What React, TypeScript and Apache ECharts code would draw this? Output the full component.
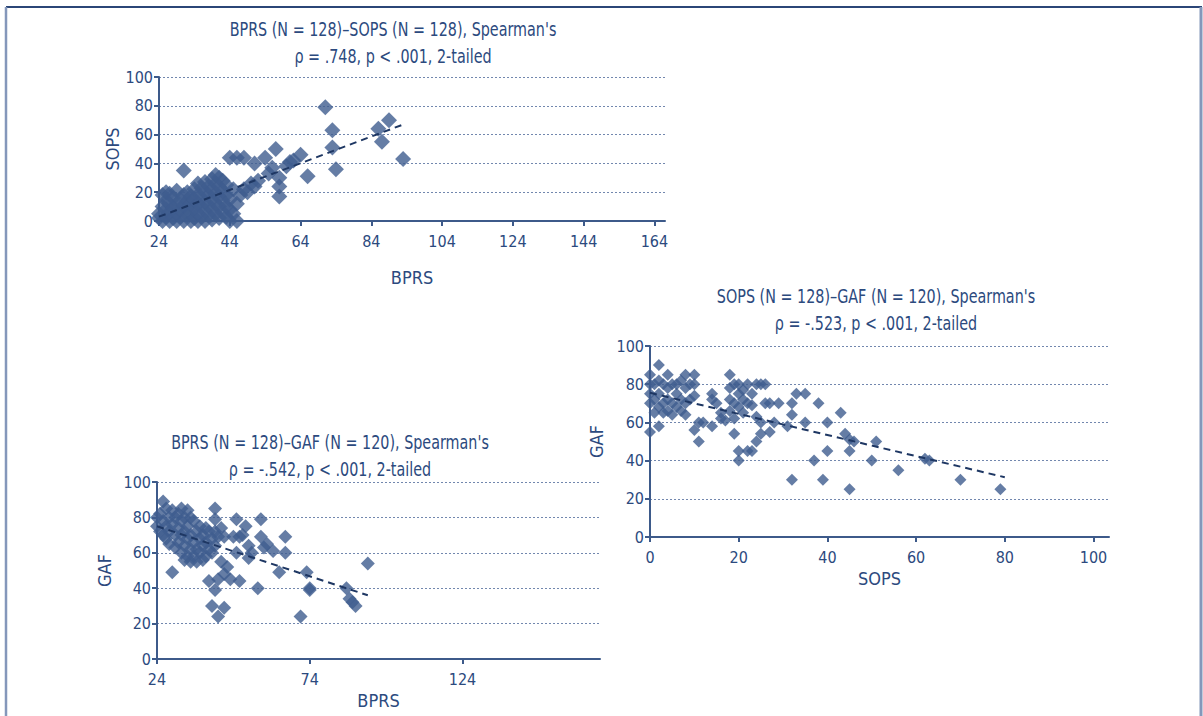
import React, { useEffect, useRef } from "react";
import * as echarts from "echarts";

// ---------- data ----------
// Plot A: BPRS (x) vs SOPS (y)
const bprsSopsPoints: [number, number][] = [
  [24, 2], [24, 5], [25, 0], [25, 10], [25, 18], [26, 3], [26, 8], [26, 14], [26, 20], [27, 0],
  [27, 6], [27, 12], [27, 19], [28, 2], [28, 9], [28, 16], [29, 0], [29, 5], [29, 12], [29, 21],
  [30, 3], [30, 8], [30, 15], [31, 0], [31, 11], [31, 18], [31, 35], [32, 4], [32, 9], [32, 14],
  [32, 20], [33, 0], [33, 6], [33, 12], [33, 17], [34, 2], [34, 9], [34, 15], [34, 22], [35, 0],
  [35, 5], [35, 12], [35, 18], [35, 26], [36, 3], [36, 10], [36, 16], [36, 23], [37, 0], [37, 7],
  [37, 13], [37, 20], [37, 27], [38, 4], [38, 11], [38, 18], [38, 24], [39, 1], [39, 8], [39, 15],
  [39, 22], [39, 29], [40, 5], [40, 12], [40, 19], [40, 26], [40, 32], [41, 2], [41, 10], [41, 17],
  [41, 24], [41, 30], [42, 6], [42, 14], [42, 21], [42, 28], [43, 3], [43, 10], [43, 18], [43, 25],
  [44, 0], [44, 8], [44, 15], [44, 44], [45, 5], [45, 22], [46, 0], [46, 12], [46, 44], [47, 18],
  [48, 22], [48, 44], [49, 20], [50, 26], [51, 24], [51, 40], [52, 28], [54, 44], [55, 33], [56, 37],
  [57, 50], [58, 17], [58, 24], [58, 30], [60, 38], [61, 41], [62, 42], [64, 46], [66, 31], [71, 79],
  [73, 63], [73, 51], [74, 36], [86, 64], [87, 55], [89, 70], [93, 43],
];
const bprsSopsTrend: [number, number][] = [[24, 3], [93, 67]];

// Plot B: SOPS (x) vs GAF (y)
const sopsGafPoints: [number, number][] = [
  [0, 85], [0, 80], [0, 75], [0, 70], [0, 55], [1, 80], [1, 72], [1, 65], [2, 90], [2, 82],
  [2, 75], [2, 68], [2, 58], [3, 80], [3, 70], [3, 65], [4, 85], [4, 78], [4, 72], [4, 66],
  [5, 80], [5, 70], [5, 64], [6, 80], [6, 75], [6, 68], [7, 82], [7, 72], [7, 66], [8, 85],
  [8, 78], [8, 70], [8, 64], [9, 80], [9, 72], [10, 85], [10, 80], [10, 74], [10, 56], [11, 60],
  [11, 50], [12, 60], [14, 75], [14, 72], [14, 58], [15, 70], [16, 65], [16, 62], [17, 61], [18, 85],
  [18, 78], [18, 72], [18, 66], [19, 80], [19, 70], [19, 54], [19, 62], [20, 80], [20, 75], [20, 68],
  [20, 40], [20, 45], [21, 77], [21, 72], [21, 65], [22, 80], [22, 70], [22, 45], [23, 75], [23, 69],
  [23, 45], [24, 80], [24, 63], [24, 50], [25, 80], [25, 60], [25, 54], [26, 80], [26, 70], [27, 70],
  [27, 55], [28, 60], [29, 70], [31, 58], [32, 70], [32, 64], [32, 30], [33, 75], [35, 75], [35, 60],
  [37, 40], [38, 70], [39, 30], [40, 60], [40, 45], [43, 65], [44, 54], [45, 51], [45, 45], [45, 25],
  [46, 50], [50, 40], [51, 50], [56, 35], [62, 41], [63, 40], [70, 30], [79, 25],
];
const sopsGafTrend: [number, number][] = [[0, 75.5], [80, 31.3]];

// Plot C: BPRS (x) vs GAF (y)
const bprsGafPoints: [number, number][] = [
  [24, 80], [24, 75], [25, 82], [25, 72], [26, 89], [26, 78], [26, 70], [27, 85], [27, 75], [27, 68],
  [28, 80], [28, 72], [28, 65], [29, 84], [29, 76], [29, 49], [30, 80], [30, 70], [30, 63], [31, 82],
  [31, 74], [31, 66], [32, 85], [32, 78], [32, 70], [32, 60], [33, 80], [33, 72], [33, 64], [33, 56],
  [34, 84], [34, 75], [34, 68], [34, 58], [35, 80], [35, 70], [35, 62], [35, 55], [36, 78], [36, 66],
  [36, 58], [37, 72], [37, 62], [37, 55], [38, 75], [38, 68], [38, 60], [39, 70], [39, 64], [39, 56],
  [40, 74], [40, 66], [40, 58], [41, 72], [41, 62], [41, 44], [42, 68], [42, 60], [42, 30], [43, 85],
  [43, 79], [43, 72], [43, 64], [43, 39], [44, 69], [44, 24], [44, 45], [45, 74], [45, 55], [46, 48],
  [46, 29], [46, 69], [47, 52], [48, 45], [49, 69], [50, 79], [50, 60], [51, 44], [51, 69], [52, 70],
  [53, 75], [54, 64], [54, 57], [55, 60], [57, 40], [58, 79], [58, 69], [59, 63], [60, 65], [62, 61],
  [64, 49], [66, 69], [66, 60], [71, 24], [73, 49], [74, 40], [74, 39], [86, 40], [87, 34], [88, 32],
  [89, 30], [93, 54],
];
const bprsGafTrend: [number, number][] = [[24, 75], [93, 36]];

// tick labels
const bprsTicksA = [24, 44, 64, 84, 104, 124, 144, 164];
const bprsTicksC = [24, 74, 124];
const sopsTicksB = [0, 20, 40, 60, 80, 100];

// titles
const titleA = ["BPRS (N = 128)–SOPS (N = 128), Spearman's", "ρ = .748, p < .001, 2-tailed"];
const titleB = ["SOPS (N = 128)–GAF (N = 120), Spearman's", "ρ = -.523, p < .001, 2-tailed"];
const titleC = ["BPRS (N = 128)–GAF (N = 120), Spearman's", "ρ = -.542, p < .001, 2-tailed"];

// ---------- styles ----------
const FONT = '"Liberation Sans Narrow", "DejaVu Sans Condensed", "Arial Narrow", sans-serif';
const TEXT = "#2c4a7e";
const AXIS = "#3d5a8a";
const MARK = "#3e5c8e";
const TREND = "#1e3763";
const GRIDLINE = "#7287ae";

function xAxis(gridIndex: number, min: number, max: number, ticks: number[], name: string, nameGap: number) {
  return {
    type: "value",
    gridIndex,
    min,
    max,
    name,
    nameLocation: "middle",
    nameGap,
    nameTextStyle: { color: TEXT, fontFamily: FONT, fontSize: 18 },
    axisLine: { show: true, onZero: false, lineStyle: { color: AXIS, width: 2 } },
    axisTick: { show: true, customValues: ticks, length: 5, lineStyle: { color: AXIS, width: 2 } },
    axisLabel: { customValues: ticks, color: TEXT, fontFamily: FONT, fontSize: 16, margin: 12 },
    splitLine: { show: false },
  };
}

function yAxis(gridIndex: number, name: string, nameGap: number) {
  return {
    type: "value",
    gridIndex,
    min: 0,
    max: 100,
    interval: 20,
    name,
    nameLocation: "middle",
    nameGap,
    nameTextStyle: { color: TEXT, fontFamily: FONT, fontSize: 18 },
    axisLine: { show: true, onZero: false, lineStyle: { color: AXIS, width: 2 } },
    axisTick: { show: true, length: 5, lineStyle: { color: AXIS, width: 2 } },
    axisLabel: { color: TEXT, fontFamily: FONT, fontSize: 16, margin: 6 },
    splitLine: { show: true, lineStyle: { color: GRIDLINE, width: 1, type: [2, 2] } },
  };
}

function titleTexts(lines: string[], cx: number, y1: number) {
  return lines.map((t, i) => ({
    type: "text",
    x: cx,
    y: y1 + i * 27,
    scaleX: 0.84,
    style: {
      text: t,
      fill: TEXT,
      font: `19px ${FONT}`,
      align: "center",
      verticalAlign: "middle",
    },
  }));
}

function scatter(idx: number, data: [number, number][], size: number) {
  return {
    type: "scatter",
    xAxisIndex: idx,
    yAxisIndex: idx,
    data,
    symbol: "diamond",
    symbolSize: size,
    itemStyle: { color: MARK },
    z: 2,
  };
}

function trend(idx: number, data: [number, number][]) {
  return {
    type: "line",
    xAxisIndex: idx,
    yAxisIndex: idx,
    data,
    symbol: "none",
    lineStyle: { color: TREND, width: 2, type: [7, 5] },
    z: 3,
  };
}

export default function App() {
  const ref = useRef<HTMLDivElement>(null);

  useEffect(() => {
    document.body.style.margin = "0";
    if (!ref.current) return;
    const chart = echarts.init(ref.current, null, { renderer: "svg" });
    chart.setOption({
      animation: false,
      backgroundColor: "#ffffff",
      grid: [
        { left: 159, top: 77, width: 506, height: 144 },
        { left: 650, top: 346, width: 459, height: 191 },
        { left: 157, top: 482, width: 443, height: 177 },
      ],
      xAxis: [
        xAxis(0, 24, 167, bprsTicksA, "BPRS", 47),
        xAxis(1, 0, 103.5, sopsTicksB, "SOPS", 32),
        xAxis(2, 24, 169, bprsTicksC, "BPRS", 32),
      ],
      yAxis: [yAxis(0, "SOPS", 38), yAxis(1, "GAF", 45), yAxis(2, "GAF", 44)],
      series: [
        scatter(0, bprsSopsPoints, 16),
        trend(0, bprsSopsTrend),
        scatter(1, sopsGafPoints, 12),
        trend(1, sopsGafTrend),
        scatter(2, bprsGafPoints, 14),
        trend(2, bprsGafTrend),
      ],
      graphic: [
        { type: "line", shape: { x1: 6, y1: 7, x2: 1202, y2: 7 }, style: { stroke: "#2b4677", lineWidth: 2 } },
        { type: "line", shape: { x1: 6, y1: 7, x2: 6, y2: 716 }, style: { stroke: "#8497ba", lineWidth: 2.5 } },
        { type: "line", shape: { x1: 1201, y1: 7, x2: 1201, y2: 716 }, style: { stroke: "#8497ba", lineWidth: 3 } },
        ...titleTexts(titleA, 393, 30),
        ...titleTexts(titleB, 876, 297),
        ...titleTexts(titleC, 330, 443),
      ],
    });
    return () => chart.dispose();
  }, []);

  return (
    <div
      ref={ref}
      style={{ position: "fixed", left: 0, top: 0, width: 1203, height: 716, background: "#fff" }}
    />
  );
}
